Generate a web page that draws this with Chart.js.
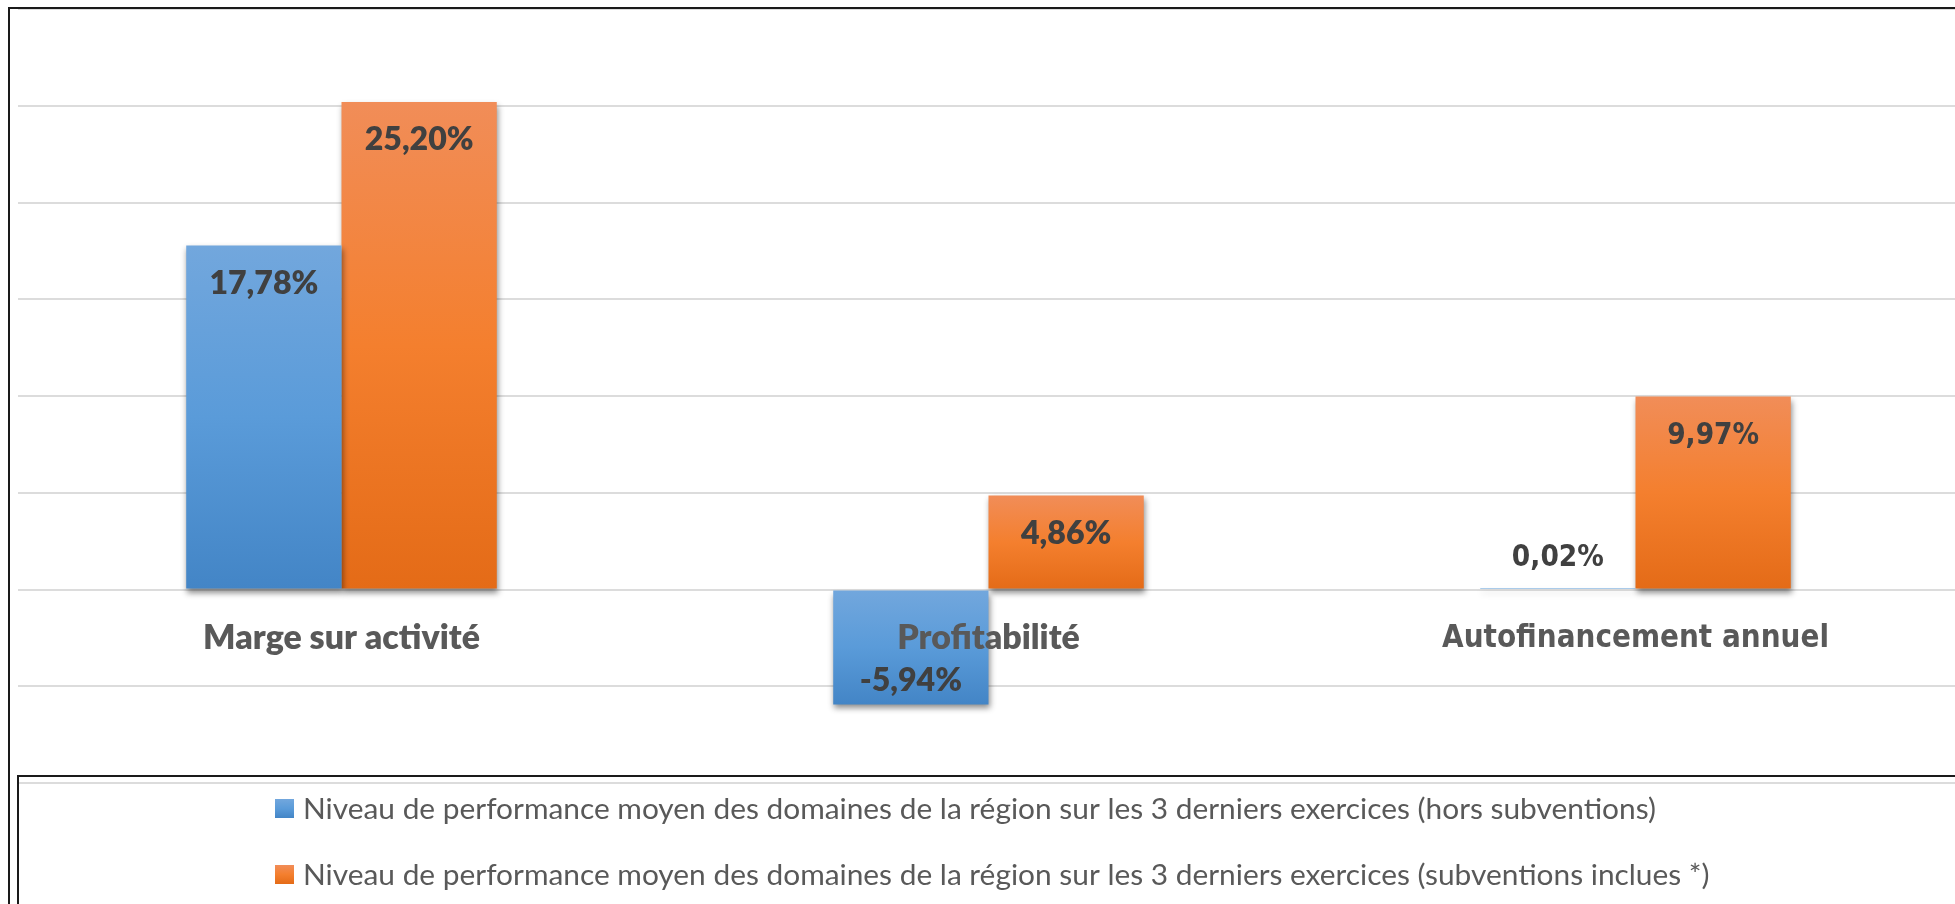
<!DOCTYPE html>
<html>
<head>
<meta charset="utf-8">
<script src="https://cdn.jsdelivr.net/npm/chart.js@4.4.1/dist/chart.umd.min.js"></script>
<style>
  html, body { margin: 0; padding: 0; background: #ffffff; overflow: hidden; }
  #c { display: block; }
</style>
</head>
<body>
<canvas id="c" width="1962" height="904"></canvas>
<script>
// ---------------- data ----------------
const categories = ['Marge sur activité', 'Profitabilité', 'Autofinancement annuel'];
const seriesNames = [
  'Niveau de performance moyen des domaines de la région sur les 3 derniers exercices (hors subventions)',
  'Niveau de performance moyen des domaines de la région sur les 3 derniers exercices (subventions inclues *)'
];
const valuesHors = [17.78, -5.94, 0.02];
const valuesIncl = [25.20, 4.86, 9.97];
const yMin = -10;
const yMax = 30;
const yStep = 5;

// ---------------- styles ----------------
const blueStops = [[0, '#72a7dd'], [0.5, '#5a9bd9'], [1, '#4385c6']];
const orangeStops = [[0, '#f18d58'], [0.5, '#f47f2e'], [1, '#e46b17']];
const LATO = 'Lato, "Open Sans", sans-serif';
const DEJAVU = '"DejaVu Sans Condensed", "DejaVu Sans", Verdana, sans-serif';
const BOLD_A = '800';

function fitSize(text, weight, family, targetWidth) {
  const c = document.createElement('canvas').getContext('2d');
  c.font = weight + ' 100px ' + family;
  return 100 * targetWidth / c.measureText(text).width;
}
const catSizeA = fitSize('Marge sur activité', BOLD_A, LATO, 277);
const catSizeB = fitSize('Autofinancement annuel', 'bold', DEJAVU, 387);
const dlSizeA = fitSize('25,20%', BOLD_A, LATO, 109);
const dlSizeB = fitSize('9,97%', 'bold', DEJAVU, 92);
const legSize = fitSize(seriesNames[0], 'normal', LATO, 1353);

const fmt = v => v.toFixed(2).replace('.', ',') + '%';

function barFill(stops) {
  return (ctx) => {
    const chart = ctx.chart;
    const y = chart.scales && chart.scales.y;
    if (!y || ctx.type !== 'data') return stops[1][1];
    const v = ctx.raw;
    const top = y.getPixelForValue(Math.max(v, 0));
    const bot = y.getPixelForValue(Math.min(v, 0));
    if (!isFinite(top) || !isFinite(bot) || bot - top < 0.5) return stops[1][1];
    const g = chart.ctx.createLinearGradient(0, top, 0, bot);
    stops.forEach(([o, c]) => g.addColorStop(o, c));
    return g;
  };
}

// ---------------- plugins ----------------
const shadowPlugin = {
  id: 'barShadow',
  beforeDatasetDraw(chart) {
    const c = chart.ctx;
    c.save();
    c.shadowColor = 'rgba(0,0,0,0.45)';
    c.shadowBlur = 6;
    c.shadowOffsetX = 1;
    c.shadowOffsetY = 4;
  },
  afterDatasetDraw(chart) { chart.ctx.restore(); }
};

const dataLabelPlugin = {
  id: 'dataLabels',
  afterDatasetsDraw(chart) {
    const c = chart.ctx;
    c.save();
    c.fillStyle = '#404040';
    c.textAlign = 'center';
    c.textBaseline = 'alphabetic';
    chart.data.datasets.forEach((ds, di) => {
      const meta = chart.getDatasetMeta(di);
      meta.data.forEach((bar, i) => {
        const v = ds.data[i];
        const size = i === 2 ? dlSizeB : dlSizeA;
        const fam = i === 2 ? DEJAVU : LATO;
        const w = i === 2 ? 'bold' : BOLD_A;
        const capH = i === 2 ? 0.73 : 0.72;
        c.font = w + ' ' + size + 'px ' + fam;
        const top = Math.min(bar.y, bar.base);
        const bottom = Math.max(bar.y, bar.base);
        let cy;
        if (bottom - top < 60) cy = top - 33;
        else if (v >= 0) cy = top + 37;
        else cy = bottom - 25;
        c.fillText(fmt(v), bar.x, cy + size * capH / 2);
      });
    });
    c.restore();
  }
};

const framePlugin = {
  id: 'frameAndLegend',
  afterDraw(chart) {
    const c = chart.ctx;
    const W = chart.width, H = chart.height;
    c.save();
    c.strokeStyle = '#1a1a1a';
    c.lineWidth = 2;
    c.beginPath();
    c.moveTo(9, H + 2); c.lineTo(9, 8); c.lineTo(W + 2, 8);
    c.stroke();
    c.beginPath();
    c.moveTo(18, H + 2); c.lineTo(18, 776); c.lineTo(W + 2, 776);
    c.stroke();

    // legend
    const stopsList = [blueStops, orangeStops];
    const rowsY = [808.5, 874.5];
    c.font = 'normal ' + legSize + 'px ' + LATO;
    c.textAlign = 'left';
    c.textBaseline = 'alphabetic';
    chart.data.datasets.forEach((ds, i) => {
      const cy = rowsY[i];
      const g = c.createLinearGradient(0, cy - 9.5, 0, cy + 9.5);
      stopsList[i].forEach(([o, col]) => g.addColorStop(o, col));
      c.fillStyle = g;
      c.fillRect(275, cy - 9.5, 19, 19);
      c.fillStyle = '#595959';
      c.fillText(ds.label, 303, cy + legSize * 0.36);
    });
    c.restore();
  }
};

// ---------------- chart ----------------
new Chart(document.getElementById('c'), {
  type: 'bar',
  data: {
    labels: categories,
    datasets: [
      { label: seriesNames[0], data: valuesHors, backgroundColor: barFill(blueStops), borderWidth: 0 },
      { label: seriesNames[1], data: valuesIncl, backgroundColor: barFill(orangeStops), borderWidth: 0 }
    ]
  },
  options: {
    responsive: false,
    animation: false,
    layout: { padding: { left: 18, top: 9, right: 3, bottom: 121 } },
    datasets: { bar: { categoryPercentage: 0.48, barPercentage: 1.0 } },
    plugins: { legend: { display: false }, tooltip: { enabled: false } },
    scales: {
      x: {
        position: { y: 0 },
        grid: { display: false, drawTicks: false },
        border: { display: false },
        ticks: {
          z: 1,
          padding: 29,
          maxRotation: 0,
          autoSkip: false,
          color: '#595959',
          font: (ctx) => ctx.index === 2
            ? { family: DEJAVU, weight: 'bold', size: catSizeB, lineHeight: '40px' }
            : { family: LATO, weight: BOLD_A, size: catSizeA, lineHeight: '40px' }
        }
      },
      y: {
        min: yMin,
        max: yMax,
        ticks: { display: false, stepSize: yStep },
        grid: { color: '#dcdcdc', lineWidth: 2, drawTicks: false },
        border: { display: false }
      }
    }
  },
  plugins: [shadowPlugin, dataLabelPlugin, framePlugin]
});
</script>
</body>
</html>
